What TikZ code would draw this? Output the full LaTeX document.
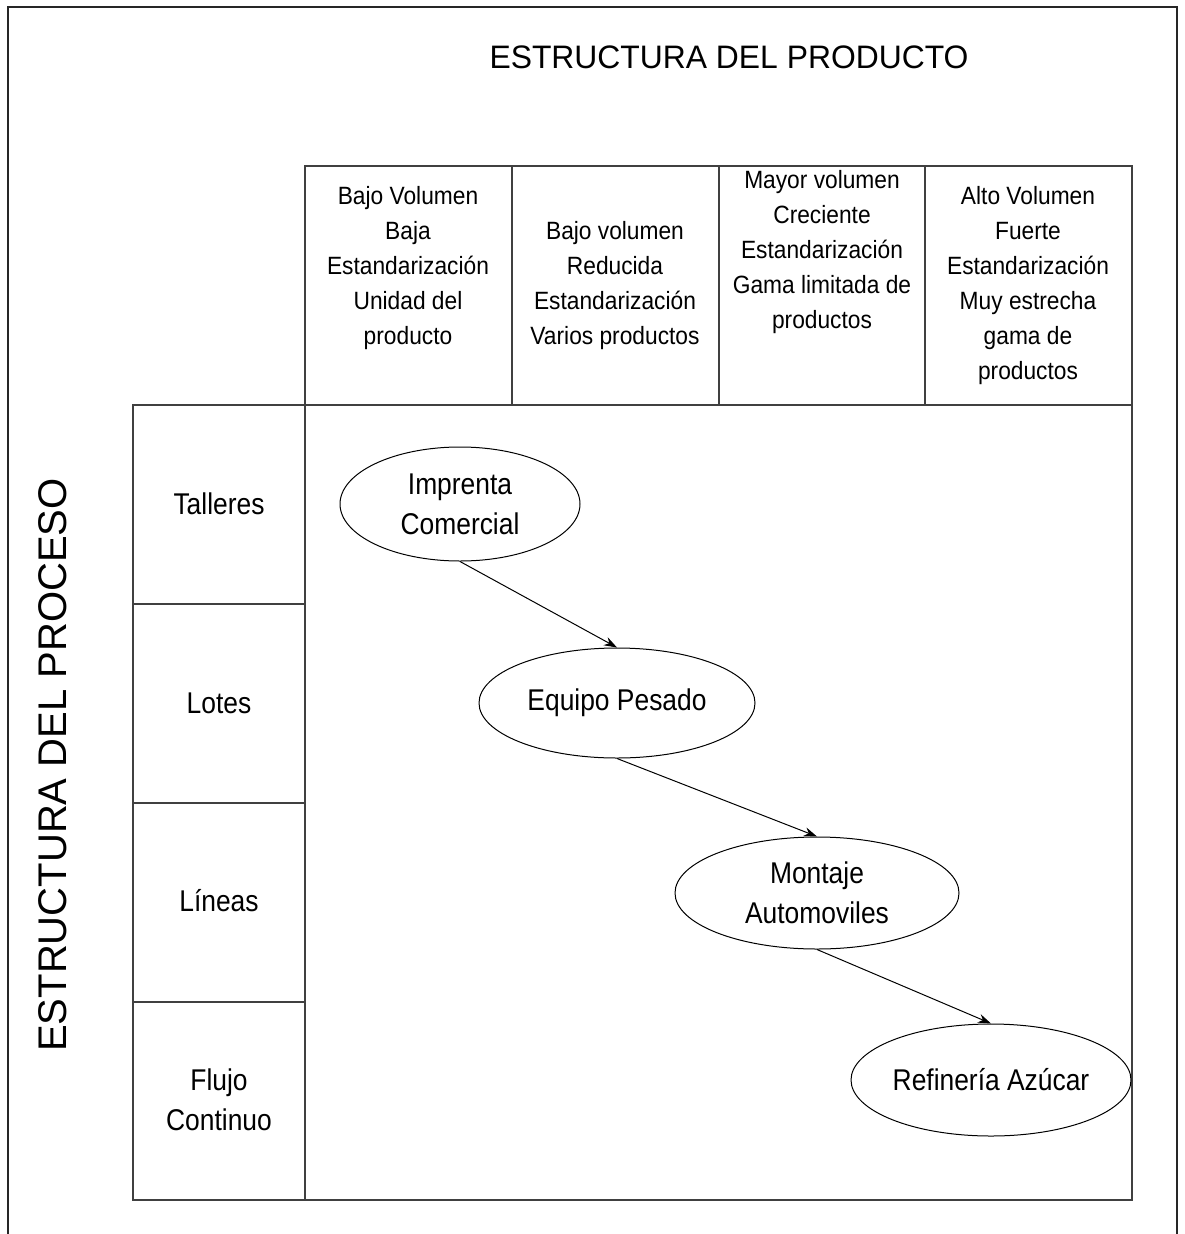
\documentclass[tikz,border=0pt]{standalone}
\usepackage{fontspec}
\setmainfont{Liberation Sans}
\newfontfamily\narrow[FakeStretch=0.88]{Liberation Sans}
\newfontfamily\cellfont[FakeStretch=0.91]{Liberation Sans}
\newfontfamily\titlefont[FakeStretch=0.98]{Liberation Sans}
\usetikzlibrary{shapes.geometric,arrows.meta}

\begin{document}
\begin{tikzpicture}[x=1pt,y=-1pt,
  frame/.style={draw=black!85, line width=1.8pt},
  grid/.style={draw=black!75, line width=1.4pt},
  cell/.style={font=\cellfont\fontsize{25}{35}\selectfont, align=center, inner sep=0pt},
  rowlab/.style={font=\narrow\fontsize{30}{40}\selectfont, align=center, inner sep=0pt},
  oval/.style={ellipse, draw=black, line width=1pt, inner sep=0pt,
    font=\narrow\fontsize{30}{40}\selectfont, align=center},
  link/.style={draw=black, line width=1pt, -{Stealth[length=13pt,width=9pt]}}
]
\useasboundingbox (0,0) rectangle (1184,1234);
\fill[white] (0,0) rectangle (1184,1234);

% open outer frame
\draw[frame] (8,1240) -- (8,7) -- (1177,7) -- (1177,1240);

% titles
\node[font=\titlefont\fontsize{32.5}{38}\selectfont, inner sep=0pt] (ttop) at (729,57) {ESTRUCTURA DEL PRODUCTO};
\node[font=\fontsize{40}{48}\selectfont, rotate=90, inner sep=0pt] (tside) at (53,765) {ESTRUCTURA DEL PROCESO};

% header grid
\draw[grid] (305,166) rectangle (1132,405);
\foreach \x in {512,719,925} \draw[grid] (\x,166) -- (\x,405);
% process column
\draw[grid] (133,405) rectangle (305,1200);
\foreach \y in {604,803,1002} \draw[grid] (133,\y) -- (305,\y);
% main area
\draw[grid] (305,405) rectangle (1132,1200);

% header texts
\node[cell] (c1) at (408,268) {Bajo Volumen\\Baja\\Estandarización\\Unidad del\\producto};
\node[cell] (c2) at (615,286) {Bajo volumen\\Reducida\\Estandarización\\Varios productos};
\node[cell] (c3) at (822,252) {Mayor volumen\\Creciente\\Estandarización\\Gama limitada de\\productos};
\node[cell] (c4) at (1028,286) {Alto Volumen\\Fuerte\\Estandarización\\Muy estrecha\\gama de\\productos};

% process labels
\node[rowlab] (r1) at (219,504) {Talleres};
\node[rowlab] (r2) at (219,703) {Lotes};
\node[rowlab] (r3) at (219,901) {Líneas};
\node[rowlab] (r4) at (219,1100) {Flujo\\Continuo};

% industries
\node[oval, minimum width=240pt, minimum height=114pt] (imp) at (460,504) {Imprenta\\Comercial};
\node[oval, minimum width=276pt, minimum height=110pt] (eq) at (617,703) {Equipo Pesado};
\node[oval, minimum width=284pt, minimum height=112pt] (mon) at (817,893) {Montaje\\Automoviles};
\node[oval, minimum width=280pt, minimum height=112pt] (ref) at (991,1080) {Refinería Azúcar};

\draw[link] (imp.south) -- (eq.north);
\draw[link] (eq.south) -- (mon.north);
\draw[link] (mon.south) -- (ref.north);
\end{tikzpicture}
\end{document}
